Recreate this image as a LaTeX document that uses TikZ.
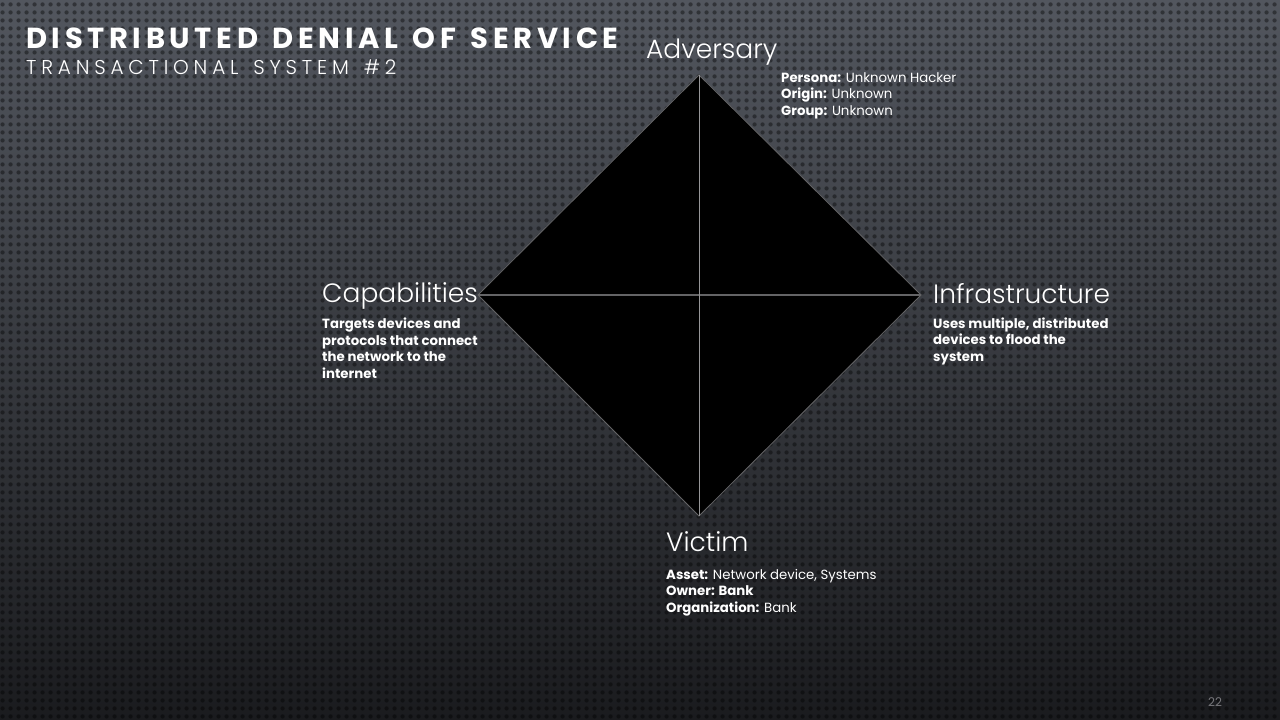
\documentclass[tikz,border=0pt]{standalone}
\usepackage{fontspec}
\setmainfont{Poppins}
\newfontfamily\titlefont[LetterSpace=16,WordSpace=1.35]{Poppins}
\newfontfamily\subfont[LetterSpace=24,WordSpace=1.45]{Poppins Light}
\newfontfamily\headfont{Poppins Light}
\usetikzlibrary{patterns}
\definecolor{bgtop}{RGB}{82,86,94}
\definecolor{bgbot}{RGB}{26,27,30}
\definecolor{edgegray}{RGB}{100,100,102}
\definecolor{axisgray}{RGB}{150,150,152}
\definecolor{pagegray}{RGB}{120,120,124}
% dark perforated-metal dots on a square grid
\pgfdeclarepatternformonly{perf}{\pgfpoint{0pt}{0pt}}{\pgfpoint{8pt}{8pt}}{\pgfpoint{8pt}{8pt}}{%
  \pgfpathcircle{\pgfpoint{4pt}{4pt}}{2.4pt}\pgfusepath{fill}}
\tikzset{
  heading/.style={anchor=base west,text=white,font=\headfont\fontsize{26.5}{30}\selectfont,inner sep=0pt},
  detail/.style={anchor=base west,text=white,align=left,inner sep=0pt,font=\fontsize{13.3}{16.5}\selectfont},
  bolddetail/.style={detail,font=\bfseries\fontsize{13.3}{16.5}\selectfont},
}
\begin{document}
\begin{tikzpicture}[x=1pt,y=-1pt]
\useasboundingbox (0,0) rectangle (1280,720);
\shade[top color=bgtop,bottom color=bgbot] (0,0) rectangle (1280,720);
\fill[pattern=perf,pattern color=black,opacity=0.4] (0,0) rectangle (1280,720);

% title block
\node[anchor=base west,text=white,inner sep=0pt,font=\titlefont\bfseries\fontsize{29}{32}\selectfont] (title) at (26,48) {DISTRIBUTED DENIAL OF SERVICE};
\node[anchor=base west,text=white,inner sep=0pt,font=\subfont\fontsize{20}{22}\selectfont] (subtitle) at (26,74) {TRANSACTIONAL SYSTEM \#2};

% diamond
\coordinate (top) at (699,75);
\coordinate (left) at (478,295);
\coordinate (right) at (921,295);
\coordinate (bottom) at (699,516);
\fill[black] (top) -- (right) -- (bottom) -- (left) -- cycle;
\draw[edgegray,line width=0.8pt] (top) -- (right) -- (bottom) -- (left) -- cycle;
\draw[edgegray,line width=1.2pt] (left) -- (right);
\draw[axisgray,line width=0.8pt] (top) -- (bottom);

% adversary (multi-line nodes sit on the baseline of their last line)
\node[heading] (adv) at (646,58) {Adversary};
\node[detail] (advtext) at (781,115) {\textbf{Persona:} Unknown Hacker\\\textbf{Origin:} Unknown\\\textbf{Group:} Unknown};

% capabilities
\node[heading] (cap) at (322,302) {Capabilities};
\node[bolddetail] (captext) at (322,378) {Targets devices and\\protocols that connect\\the network to the\\internet};

% infrastructure
\node[heading] (inf) at (933,303) {Infrastructure};
\node[bolddetail] (inftext) at (933,361) {Uses multiple, distributed\\devices to flood the\\system};

% victim
\node[heading] (vic) at (666,551) {Victim};
\node[detail] (victext) at (666,612) {\textbf{Asset:} Network device, Systems\\\textbf{Owner: Bank}\\\textbf{Organization:} Bank};

% page number
\node[text=pagegray,font=\fontsize{12}{14}\selectfont,anchor=base] (page) at (1215,706) {22};
\end{tikzpicture}
\end{document}
